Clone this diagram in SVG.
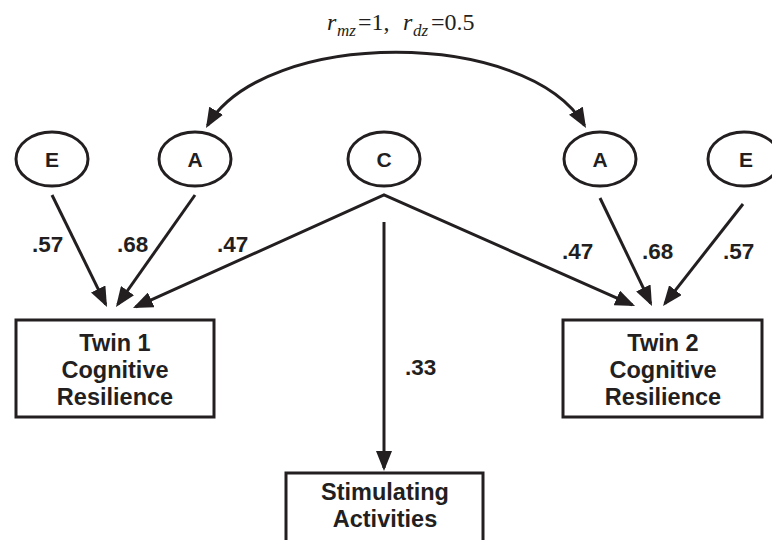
<svg xmlns="http://www.w3.org/2000/svg" width="772" height="540" viewBox="0 0 772 540">
<style>
.node ellipse, .node rect { fill: #fff; stroke: #231f20; stroke-width: 3; }
.lbl { font-family: "Liberation Sans", Arial, sans-serif; font-weight: bold; fill: #231f20; }
.nt { font-size: 21px; text-anchor: middle; }
.bt { font-size: 23.5px; text-anchor: middle; }
.num { font-size: 22.5px; }
.conn path { fill: none; stroke: #231f20; stroke-width: 3; stroke-linejoin: miter; }
.top { font-family: "Liberation Serif", "Times New Roman", serif; fill: #231f20; font-size: 24px; }
</style>
<defs>
<marker id="ah" viewBox="0 0 20 16" refX="17" refY="8" markerWidth="20" markerHeight="16" markerUnits="userSpaceOnUse" orient="auto-start-reverse">
<path d="M0,0 L20,8 L0,16 z" fill="#231f20"/>
</marker>
</defs>
<rect width="772" height="540" fill="#fff"/>
<g class="conn">
<path d="M207.5,125.4 C265,28 527,28 584.5,125.4" marker-start="url(#ah)" marker-end="url(#ah)"/>
<path d="M52,195 L105.7,304.3" marker-end="url(#ah)"/>
<path d="M195,195 L117.7,304.5" marker-end="url(#ah)"/>
<path d="M135.7,306.8 L384,195 L632.3,304.8" marker-start="url(#ah)" marker-end="url(#ah)"/>
<path d="M600,198 L650.7,303.3" marker-end="url(#ah)"/>
<path d="M743,204 L664.9,303.6" marker-end="url(#ah)"/>
<path d="M384,222 L384,468" marker-end="url(#ah)"/>
</g>
<g id="E1" class="node"><ellipse cx="52" cy="159" rx="36" ry="27"/><text class="lbl nt" x="52" y="167">E</text></g>
<g id="A1" class="node"><ellipse cx="195" cy="159" rx="36" ry="27"/><text class="lbl nt" x="195" y="167">A</text></g>
<g id="C" class="node"><ellipse cx="384" cy="159" rx="36" ry="27"/><text class="lbl nt" x="384" y="167">C</text></g>
<g id="A2" class="node"><ellipse cx="600" cy="159" rx="36" ry="27"/><text class="lbl nt" x="600" y="167">A</text></g>
<g id="E2" class="node"><ellipse cx="744" cy="159" rx="36" ry="27"/><text class="lbl nt" x="746" y="167">E</text></g>
<g id="Twin1" class="node"><rect x="16" y="320" width="198" height="97"/>
<text class="lbl bt" x="115" y="351">Twin 1</text><text class="lbl bt" x="115" y="378">Cognitive</text><text class="lbl bt" x="115" y="405">Resilience</text></g>
<g id="Twin2" class="node"><rect x="563" y="320" width="199" height="97"/>
<text class="lbl bt" x="663" y="351">Twin 2</text><text class="lbl bt" x="663" y="378">Cognitive</text><text class="lbl bt" x="663" y="405">Resilience</text></g>
<g id="Stim" class="node"><rect x="286" y="473" width="197" height="80"/>
<text class="lbl bt" x="385" y="500">Stimulating</text><text class="lbl bt" x="385" y="527">Activities</text></g>
<g id="labels">
<text class="lbl num" x="32" y="252">.57</text>
<text class="lbl num" x="117" y="252">.68</text>
<text class="lbl num" x="217" y="252">.47</text>
<text class="lbl num" x="562" y="259">.47</text>
<text class="lbl num" x="642" y="259">.68</text>
<text class="lbl num" x="723" y="259">.57</text>
<text class="lbl num" x="405" y="375">.33</text>
<text class="top" y="30"><tspan x="327" font-style="italic">r</tspan><tspan x="337" y="36" font-size="17" font-style="italic">mz</tspan><tspan x="358" y="30">=1,</tspan><tspan x="403" font-style="italic">r</tspan><tspan x="413" y="36" font-size="17" font-style="italic">dz</tspan><tspan x="431" y="30">=0.5</tspan></text>
</g>
</svg>
